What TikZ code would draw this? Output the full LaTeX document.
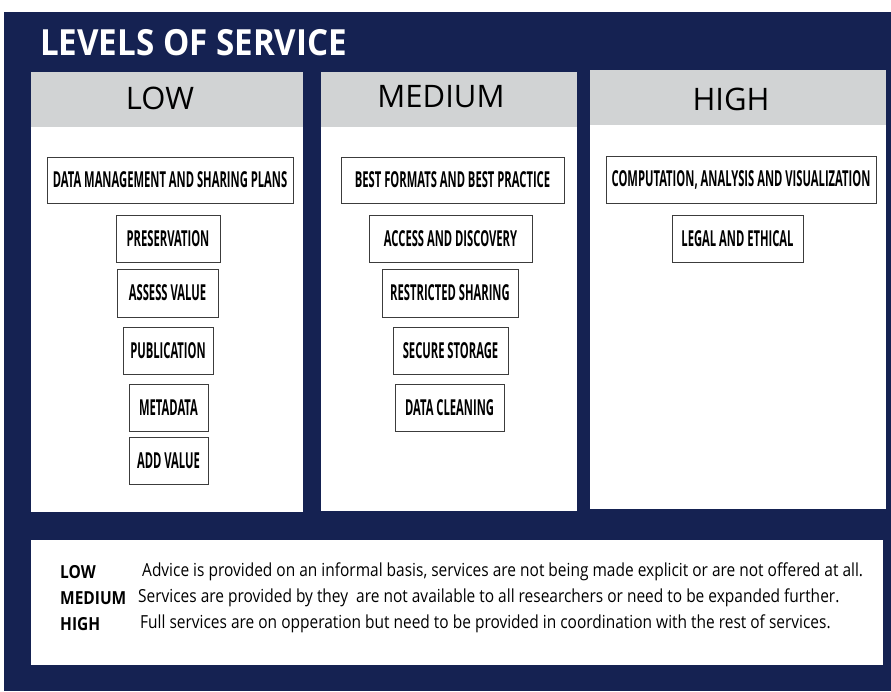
\documentclass[tikz,border=0pt]{standalone}
\usepackage{fontspec}
\setmainfont{Open Sans}
\newfontfamily\titlef[FakeStretch=0.92]{Open Sans}
\newfontfamily\boxf[FakeStretch=0.51]{Open Sans}
\newfontfamily\legf[FakeStretch=0.86]{Open Sans}
\newfontfamily\headf{Open Sans}
\definecolor{navy}{RGB}{21,34,82}
\definecolor{hdrgray}{RGB}{209,211,212}
\definecolor{boxline}{RGB}{60,60,60}
\tikzset{
  panel/.style={fill=white},
  hdr/.style={fill=hdrgray},
  hdrtext/.style={font=\headf\fontsize{31}{31}\selectfont, text=black, inner sep=0pt},
  svc/.style={draw=boxline, line width=0.9pt, fill=white, inner sep=0pt,
    font=\boxf\bfseries\fontsize{22}{22}\selectfont, text=black},
  leglab/.style={font=\legf\bfseries\fontsize{18}{18}\selectfont, anchor=west, inner sep=0pt},
  legtxt/.style={font=\legf\fontsize{18}{18}\selectfont, anchor=west, inner sep=0pt}
}
\begin{document}
\begin{tikzpicture}[x=1pt,y=-1pt]
\useasboundingbox (0,0) rectangle (891,691);
\fill[white] (0,0) rectangle (891,691);
\fill[navy] (4,12) rectangle (891,691);
\node[anchor=west, inner sep=0pt, text=white, font=\titlef\bfseries\fontsize{36}{36}\selectfont] (title) at (40,43) {LEVELS OF SERVICE};
% panels
\fill[panel] (31,72) rectangle (303,512);
\fill[hdr] (31,72) rectangle (303,127);
\fill[panel] (321,72) rectangle (577,511);
\fill[hdr] (321,72) rectangle (577,127);
\fill[panel] (590,70) rectangle (886,509);
\fill[hdr] (590,70) rectangle (886,125);
\node[hdrtext] (hlow) at (160,98) {LOW};
\node[hdrtext] (hmed) at (441,97) {MEDIUM};
\node[hdrtext] (hhigh) at (731,99) {HIGH};
% LOW
\node[svc, minimum width=246pt, minimum height=46pt] (dmsp) at (170,180) {DATA MANAGEMENT AND SHARING PLANS};
\node[svc, minimum width=104pt, minimum height=47pt] (pres) at (168,238.5) {PRESERVATION};
\node[svc, minimum width=101pt, minimum height=48pt] (assess) at (167.5,293) {ASSESS VALUE};
\node[svc, minimum width=90pt, minimum height=47pt] (pub) at (168,350.5) {PUBLICATION};
\node[svc, minimum width=79pt, minimum height=47pt] (meta) at (168.5,407.5) {METADATA};
\node[svc, minimum width=79pt, minimum height=47pt] (addv) at (168.5,460.5) {ADD VALUE};
% MEDIUM
\node[svc, minimum width=223pt, minimum height=46pt] (bfbp) at (452.5,180) {BEST FORMATS AND BEST PRACTICE};
\node[svc, minimum width=163pt, minimum height=47pt] (acc) at (450.5,238.5) {ACCESS AND DISCOVERY};
\node[svc, minimum width=136pt, minimum height=48pt] (rs) at (450,293) {RESTRICTED SHARING};
\node[svc, minimum width=115pt, minimum height=47pt] (ss) at (450.5,350.5) {SECURE STORAGE};
\node[svc, minimum width=109pt, minimum height=47pt] (dc) at (449.5,407.5) {DATA CLEANING};
% HIGH
\node[svc, minimum width=270pt, minimum height=47pt] (cav) at (741,179.5) {COMPUTATION, ANALYSIS AND VISUALIZATION};
\node[svc, minimum width=131pt, minimum height=47pt] (le) at (737.5,238.5) {LEGAL AND ETHICAL};
% legend
\fill[white] (31,540) rectangle (883,665);
\node[leglab] (llow) at (60,572) {LOW};
\node[leglab] (lmed) at (60,598) {MEDIUM};
\node[leglab] (lhigh) at (60,624) {HIGH};
\node[legtxt] (tlow) at (142,572) {Advice is provided on an informal basis, services are not being made explicit or are not offered at all.};
\node[legtxt] (tmed) at (138,598) {Services are provided by they\ \ are not available to all researchers or need to be expanded further.};
\node[legtxt] (thigh) at (140,624) {Full services are on opperation but need to be provided in coordination with the rest of services.};
\end{tikzpicture}
\end{document}
